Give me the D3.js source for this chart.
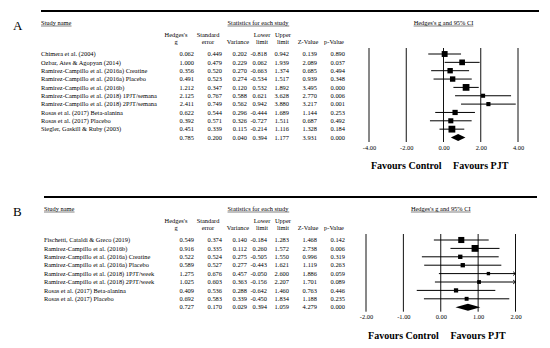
<!DOCTYPE html>
<html>
<head>
<meta charset="utf-8">
<script src="https://cdn.jsdelivr.net/npm/d3@7"></script>
<style>
body { margin: 0; background: #fff; }
svg { display: block; font-family: 'Liberation Serif', 'Times New Roman', serif; }
</style>
</head>
<body>
<svg id="canvas" width="550" height="348"></svg>
<script>

// Panel A: all studies
let studiesA = [
    'Chimera et al. (2004)',
    'Ozbar, Ates & Agopyan (2014)',
    'Ramirez-Campillo et al. (2016a) Creatine',
    'Ramirez-Campillo et al. (2016a) Placebo',
    'Ramirez-Campillo et al. (2016b)',
    'Ramirez-Campillo et al. (2018) 1PJT/semana',
    'Ramirez-Campillo et al. (2018) 2PJT/semana',
    'Rosas et al. (2017) Beta-alanina',
    'Rosas et al. (2017) Placebo',
    'Siegler, Gaskill & Ruby (2003)'
]
let gA     = [0.062, 1.000, 0.356, 0.491, 1.212, 2.125, 2.411, 0.622, 0.392, 0.451]
let seA    = [0.449, 0.479, 0.520, 0.523, 0.347, 0.767, 0.749, 0.544, 0.571, 0.339]
let varA   = [0.202, 0.229, 0.270, 0.274, 0.120, 0.588, 0.562, 0.296, 0.326, 0.115]
let lowerA = [-0.818, 0.062, -0.663, -0.534, 0.532, 0.621, 0.942, -0.444, -0.727, -0.214]
let upperA = [0.942, 1.939, 1.374, 1.517, 1.892, 3.628, 3.880, 1.689, 1.511, 1.116]
let zA     = [0.139, 2.089, 0.685, 0.939, 3.495, 2.770, 3.217, 1.144, 0.687, 1.328]
let pA     = [0.890, 0.037, 0.494, 0.348, 0.000, 0.006, 0.001, 0.253, 0.492, 0.184]
// g, se, variance, lower, upper, z, p
let summaryA = [0.785, 0.200, 0.040, 0.394, 1.177, 3.931, 0.000]
let ticksA = [-4, -2, 0, 2, 4]
let tauSqA = 0.148

// Panel B
let studiesB = [
    'Fischetti, Cataldi & Greco (2019)',
    'Ramirez-Campillo et al. (2016b)',
    'Ramirez-Campillo et al. (2016a) Creatine',
    'Ramirez-Campillo et al. (2016a) Placebo',
    'Ramirez-Campillo et al. (2018) 1PJT/week',
    'Ramirez-Campillo et al. (2018) 2PJT/week',
    'Rosas et al. (2017) Beta-alanina',
    'Rosas et al. (2017) Placebo'
]
let gB     = [0.549, 0.916, 0.522, 0.589, 1.275, 1.025, 0.409, 0.692]
let seB    = [0.374, 0.335, 0.524, 0.527, 0.676, 0.603, 0.536, 0.583]
let varB   = [0.140, 0.112, 0.275, 0.277, 0.457, 0.363, 0.288, 0.339]
let lowerB = [-0.184, 0.260, -0.505, -0.443, -0.050, -0.156, -0.642, -0.450]
let upperB = [1.283, 1.572, 1.550, 1.621, 2.600, 2.207, 1.460, 1.834]
let zB     = [1.468, 2.738, 0.996, 1.119, 1.886, 1.701, 0.763, 1.188]
let pB     = [0.142, 0.006, 0.319, 0.263, 0.059, 0.089, 0.446, 0.235]
let summaryB = [0.727, 0.170, 0.029, 0.394, 1.059, 4.279, 0.000]
let ticksB = [-2, -1, 0, 1, 2]
let tauSqB = 0

let headerTop = ["Hedges's", 'Standard', '', 'Lower', 'Upper', '', '']
let headerBottom = ['g', 'error', 'Variance', 'limit', 'limit', 'Z-Value', 'p-Value']

let canvas = d3.select('#canvas')

let fontSize = 6.4
// right edge of the numbers and centre of the header, per column
let colRight = [194, 222, 247, 267, 289, 317, 345]
let colHead  = [176, 208, 238, 262, 283, 308, 334]

let underline = (sel) => {
    let box = sel.node().getBBox()
    let y = +sel.attr('y') + 1
    canvas.append('line')
        .attr('x1', box.x).attr('x2', box.x + box.width)
        .attr('y1', y).attr('y2', y)
        .attr('stroke', '#000').attr('stroke-width', 0.5)
}

let drawPanel = (p) => {
    let g = canvas.append('g')

    g.append('line')
        .attr('x1', p.left).attr('x2', p.right)
        .attr('y1', p.top).attr('y2', p.top)
        .attr('stroke', '#000').attr('stroke-width', 2)

    g.append('text')
        .attr('x', 13).attr('y', p.top + 19)
        .attr('font-size', 13)
        .text(p.label)

    let headY = p.top + 14
    underline(g.append('text').attr('x', p.left).attr('y', headY)
        .attr('font-size', fontSize).text('Study name'))
    underline(g.append('text').attr('x', 258).attr('y', headY)
        .attr('text-anchor', 'middle').attr('font-size', fontSize)
        .text('Statistics for each study'))

    let x = d3.scaleLinear().domain(p.domain).range(p.range)

    underline(g.append('text').attr('x', x(0)).attr('y', headY)
        .attr('text-anchor', 'middle').attr('font-size', fontSize)
        .text("Hedges's g and 95% CI"))

    headerTop.forEach((t, i) => {
        g.append('text').attr('x', colHead[i]).attr('y', p.top + 25.5)
            .attr('text-anchor', 'middle').attr('font-size', fontSize).text(t)
        g.append('text').attr('x', colHead[i]).attr('y', p.top + 32.5)
            .attr('text-anchor', 'middle').attr('font-size', fontSize).text(headerBottom[i])
    })

    let n = p.studies.length
    let y = d3.scaleLinear().domain([0, n]).range([p.top + 43, p.top + 43 + n * p.step])

    // table rows
    let rows = p.studies.map((name, i) => {
        return [p.g[i], p.se[i], p.v[i], p.lower[i], p.upper[i], p.z[i], p.p[i]]
    })

    rows.forEach((vals, i) => {
        g.append('text').attr('x', p.left).attr('y', y(i) + 2.2)
            .attr('font-size', fontSize).text(p.studies[i])
        vals.forEach((v, j) => {
            g.append('text').attr('x', colRight[j]).attr('y', y(i) + 2.2)
                .attr('text-anchor', 'end').attr('font-size', fontSize)
                .text(v.toFixed(3))
        })
    })
    p.summary.forEach((v, j) => {
        g.append('text').attr('x', colRight[j]).attr('y', y(n) + 2.2)
            .attr('text-anchor', 'end').attr('font-size', fontSize)
            .text(v.toFixed(3))
    })

    // vertical reference lines
    g.selectAll('.vline')
        .data(p.ticks)
        .enter()
        .append('line')
        .attr('x1', (t) => x(t)).attr('x2', (t) => x(t))
        .attr('y1', y(0) - 6).attr('y2', y(n) + 4.5)
        .attr('stroke', '#111').attr('stroke-width', 1)

    // confidence intervals
    let dMax = p.domain[1]
    p.g.forEach((est, i) => {
        let hi = Math.min(p.upper[i], dMax)
        g.append('line')
            .attr('x1', x(p.lower[i])).attr('x2', x(hi))
            .attr('y1', y(i)).attr('y2', y(i))
            .attr('stroke', '#000').attr('stroke-width', 1)
        if (p.upper[i] > dMax) {
            g.append('path')
                .attr('d', 'M' + (x(dMax) - 2.5) + ',' + (y(i) - 2) + 'L' + x(dMax) + ',' + y(i) + 'L' + (x(dMax) - 2.5) + ',' + (y(i) + 2))
                .attr('fill', 'none').attr('stroke', '#000').attr('stroke-width', 0.8)
        }
    })

    // boxes sized by weight
    let weights = p.v.map((v) => 1 / (v + p.tau))
    let size = d3.scaleSqrt().domain([0, d3.max(weights)]).range([0, 6.8])
    g.selectAll('.box')
        .data(p.g)
        .enter()
        .append('rect')
        .attr('x', (est, i) => x(est) - size(weights[i]) / 2)
        .attr('y', (est, i) => y(i) - size(weights[i]) / 2)
        .attr('width', (est, i) => size(weights[i]))
        .attr('height', (est, i) => size(weights[i]))
        .attr('fill', '#000')

    // summary diamond
    let sy = y(n)
    g.append('path')
        .attr('d', 'M' + x(p.summary[3]) + ',' + sy +
                   'L' + x(p.summary[0]) + ',' + (sy - 3.5) +
                   'L' + x(p.summary[4]) + ',' + sy +
                   'L' + x(p.summary[0]) + ',' + (sy + 3.5) + 'Z')
        .attr('fill', '#000')

    // tick labels
    let axis = g.append('g')
        .attr('transform', 'translate(0,' + (y(n) + 12) + ')')
        .call(d3.axisBottom(x).tickValues(p.ticks).tickSize(0).tickPadding(0)
            .tickFormat((t) => t.toFixed(2)))
    axis.select('.domain').remove()
    axis.selectAll('text')
        .attr('dy', 0)
        .attr('font-size', fontSize)
        .attr('font-family', "'Liberation Serif', 'Times New Roman', serif")
        .attr('fill', '#000')

    g.append('text')
        .attr('x', (x(p.domain[0]) + x(0)) / 2).attr('y', y(n) + 31.5)
        .attr('text-anchor', 'middle').attr('font-size', 10).attr('font-weight', 'bold')
        .text('Favours Control')
    g.append('text')
        .attr('x', (x(p.domain[1]) + x(0)) / 2).attr('y', y(n) + 31.5)
        .attr('text-anchor', 'middle').attr('font-size', 10).attr('font-weight', 'bold')
        .text('Favours PJT')
}

drawPanel({
    label: 'A', top: 11, left: 41, right: 539, step: 8.35,
    domain: [-4, 4], range: [369, 518], ticks: ticksA, tau: tauSqA,
    studies: studiesA, g: gA, se: seA, v: varA, lower: lowerA, upper: upperA,
    z: zA, p: pA, summary: summaryA
})

drawPanel({
    label: 'B', top: 197, left: 44, right: 537, step: 8.4,
    domain: [-2, 2], range: [366, 515.5], ticks: ticksB, tau: tauSqB,
    studies: studiesB, g: gB, se: seB, v: varB, lower: lowerB, upper: upperB,
    z: zB, p: pB, summary: summaryB
})

</script>
</body>
</html>
